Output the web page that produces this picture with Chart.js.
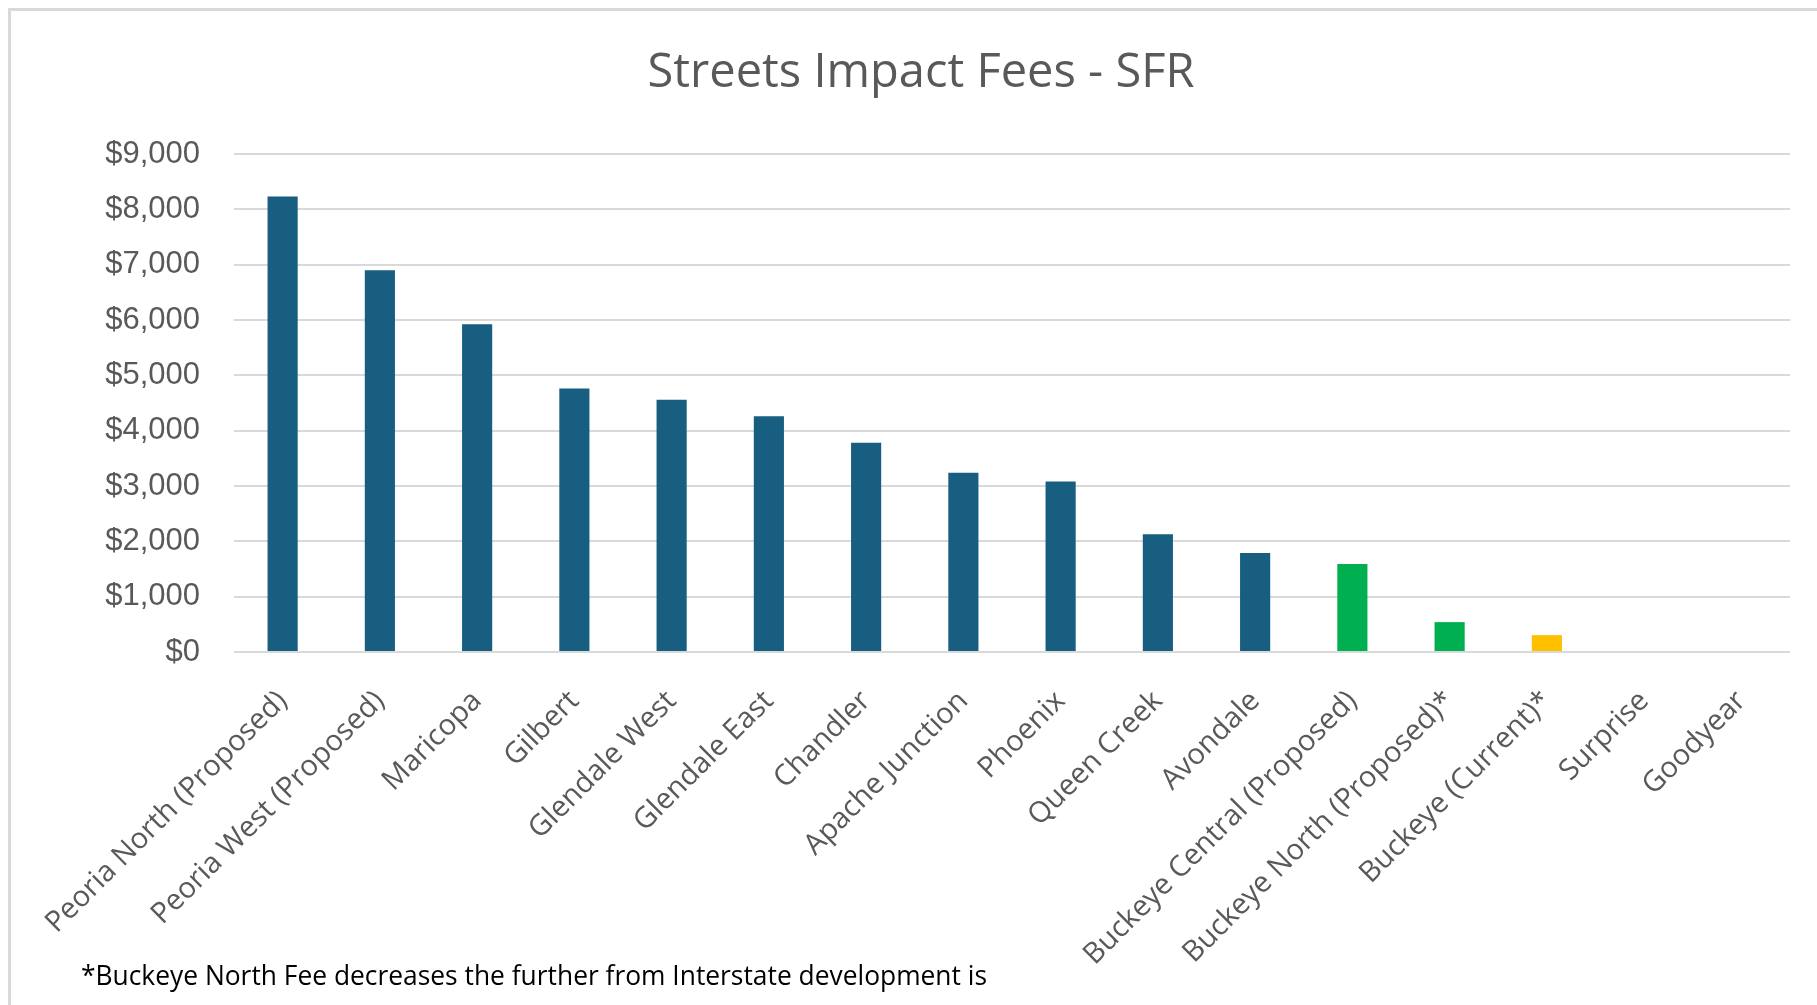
<!DOCTYPE html>
<html>
<head>
<meta charset="utf-8">
<script src="https://cdn.jsdelivr.net/npm/chart.js@4"></script>
<style>
  body { margin: 0; background: #fff; overflow: hidden; }
  .frame { position: absolute; left: 8px; top: 8px; width: 2000px; height: 2000px;
           border-left: 3px solid #D9D9D9; border-top: 3px solid #D9D9D9; }
  .chart-container { position: absolute; left: 0; top: 0; width: 1817px; height: 1005px; }
</style>
</head>
<body>
<div class="frame"></div>
<div class="chart-container"><canvas id="feesChart"></canvas></div>
<script>
// Data
const cities = [
  "Peoria North (Proposed)", "Peoria West (Proposed)", "Maricopa", "Gilbert",
  "Glendale West", "Glendale East", "Chandler", "Apache Junction", "Phoenix",
  "Queen Creek", "Avondale", "Buckeye Central (Proposed)",
  "Buckeye North (Proposed)*", "Buckeye (Current)*", "Surprise", "Goodyear"
];
const fees = [8230, 6900, 5925, 4760, 4560, 4260, 3780, 3240, 3080, 2130, 1790, 1590, 540, 305, 0, 0];
const barColors = [
  "#175E80", "#175E80", "#175E80", "#175E80", "#175E80", "#175E80", "#175E80", "#175E80",
  "#175E80", "#175E80", "#175E80", "#00B050", "#00B050", "#FFC000", "#175E80", "#175E80"
];
const yTicks = [0, 1000, 2000, 3000, 4000, 5000, 6000, 7000, 8000, 9000];

const chartTitle = "Streets Impact Fees - SFR";
const footnote = "*Buckeye North Fee decreases the further from Interstate development is";

// Title + footnote drawn on the canvas
const textPlugin = {
  id: "textPlugin",
  afterDraw(chart) {
    const ctx = chart.ctx;
    ctx.save();
    ctx.fillStyle = "#595959";
    ctx.font = "47px 'Open Sans'";
    ctx.textAlign = "center";
    ctx.textBaseline = "middle";
    ctx.fillText(chartTitle, 921, 74, 553);

    ctx.fillStyle = "#000000";
    ctx.font = "28px 'Open Sans'";
    ctx.textAlign = "left";
    ctx.fillText(footnote, 81, 977, 906);
    ctx.restore();
  }
};

const feesChart = new Chart(document.getElementById("feesChart"), {
  type: "bar",
  data: {
    labels: cities,
    datasets: [{
      label: "Streets Impact Fee",
      data: fees,
      backgroundColor: barColors,
      barPercentage: 0.31,
      categoryPercentage: 1.0
    }]
  },
  options: {
    responsive: true,
    maintainAspectRatio: false,
    animation: false,
    layout: { padding: { top: 154, right: 27, bottom: 0, left: 0 } },
    plugins: {
      legend: { display: false },
      tooltip: { enabled: false }
    },
    scales: {
      x: {
        grid: { display: false },
        border: { display: false },
        ticks: {
          color: "#595959",
          font: { family: "'Open Sans'", size: 29 },
          minRotation: 45,
          maxRotation: 45,
          padding: 24,
          autoSkip: false
        },
        afterFit: (scale) => { scale.height = 353; }
      },
      y: {
        min: 0,
        max: 9000,
        afterBuildTicks: (scale) => { scale.ticks = yTicks.map(v => ({ value: v })); },
        grid: { color: "#D9D9D9", lineWidth: 2, drawTicks: false },
        border: { display: false },
        ticks: {
          color: "#595959",
          font: { family: "'Liberation Sans', Arial", size: 31 },
          padding: 34,
          callback: (value) => "$" + value.toLocaleString("en-US")
        },
        afterFit: (scale) => { scale.width = 234; }
      }
    }
  },
  plugins: [textPlugin]
});
</script>
</body>
</html>
